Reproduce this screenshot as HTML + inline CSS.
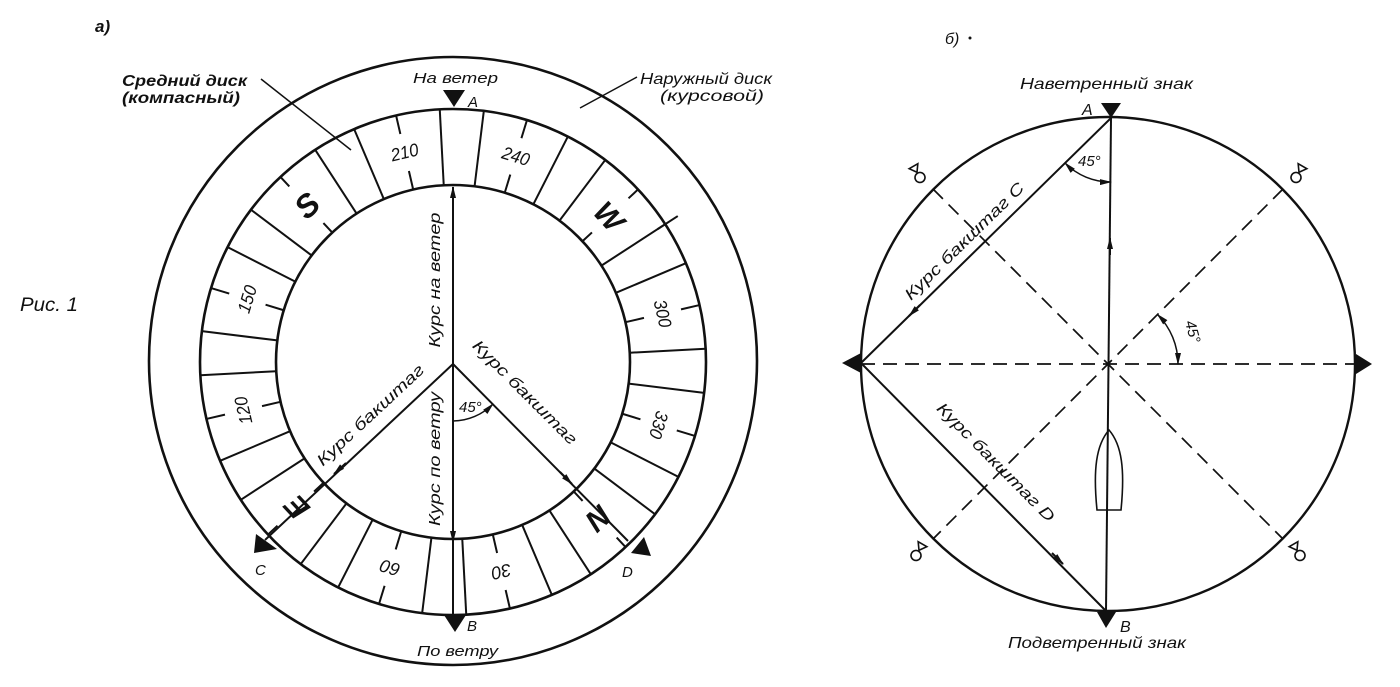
<!DOCTYPE html>
<html><head><meta charset="utf-8"><style>
html,body{margin:0;padding:0;background:#fff;}
svg{display:block;}
text{font-family:"Liberation Sans",sans-serif;font-style:italic;fill:#111;}
</style></head><body>
<svg width="1400" height="687" viewBox="0 0 1400 687" xmlns="http://www.w3.org/2000/svg">
<defs>
<marker id="ar" viewBox="0 0 12 6" refX="11" refY="3" markerWidth="12" markerHeight="6" markerUnits="userSpaceOnUse" orient="auto-start-reverse">
<path d="M0,0 L12,3 L0,6 Z" fill="#111"/></marker>
</defs>

<text x="95" y="32" font-size="17" font-weight="bold">а)</text>
<text x="20" y="311" font-size="19" textLength="58" lengthAdjust="spacingAndGlyphs">Рис. 1</text>
<text x="122" y="86" font-size="16" font-weight="bold" textLength="125" lengthAdjust="spacingAndGlyphs">Средний диск</text>
<text x="122" y="103" font-size="16" font-weight="bold" textLength="118" lengthAdjust="spacingAndGlyphs">(компасный)</text>
<text x="640" y="84" font-size="16" textLength="132" lengthAdjust="spacingAndGlyphs">Наружный диск</text>
<text x="660" y="101" font-size="16" textLength="104" lengthAdjust="spacingAndGlyphs">(курсовой)</text>
<line x1="261" y1="79" x2="351" y2="150" stroke="#111" stroke-width="1.5"/>
<line x1="637" y1="77" x2="580" y2="108" stroke="#111" stroke-width="1.5"/>
<text x="413" y="83" font-size="15" textLength="85" lengthAdjust="spacingAndGlyphs">На ветер</text>
<text x="417" y="656" font-size="15" textLength="81" lengthAdjust="spacingAndGlyphs">По ветру</text>
<text x="468" y="107" font-size="15">A</text>
<text x="467" y="631" font-size="15">B</text>
<text x="255" y="575" font-size="15">C</text>
<text x="622" y="577" font-size="15">D</text>

<g fill="none" stroke="#111" stroke-width="2.6">
<circle cx="453" cy="361" r="304"/>
<circle cx="453" cy="362" r="253"/>
<circle cx="453" cy="362" r="177"/>
</g>
<g transform="translate(453,362)" stroke="#111" stroke-width="2">
<g>
<line x1="0" y1="-177" x2="0" y2="-253" transform="rotate(-3)"/>
<line x1="0" y1="-177" x2="0" y2="-253" transform="rotate(7)"/>
<line x1="0" y1="-177" x2="0" y2="-253" transform="rotate(27)"/>
<line x1="0" y1="-177" x2="0" y2="-253" transform="rotate(37)"/>
<line x1="0" y1="-177" x2="0" y2="-253" transform="rotate(57)"/>
<line x1="0" y1="-177" x2="0" y2="-253" transform="rotate(67)"/>
<line x1="0" y1="-177" x2="0" y2="-253" transform="rotate(87)"/>
<line x1="0" y1="-177" x2="0" y2="-253" transform="rotate(97)"/>
<line x1="0" y1="-177" x2="0" y2="-253" transform="rotate(117)"/>
<line x1="0" y1="-177" x2="0" y2="-253" transform="rotate(127)"/>
<line x1="0" y1="-177" x2="0" y2="-253" transform="rotate(147)"/>
<line x1="0" y1="-177" x2="0" y2="-253" transform="rotate(157)"/>
<line x1="0" y1="-177" x2="0" y2="-253" transform="rotate(177)"/>
<line x1="0" y1="-177" x2="0" y2="-253" transform="rotate(187)"/>
<line x1="0" y1="-177" x2="0" y2="-253" transform="rotate(207)"/>
<line x1="0" y1="-177" x2="0" y2="-253" transform="rotate(217)"/>
<line x1="0" y1="-177" x2="0" y2="-253" transform="rotate(237)"/>
<line x1="0" y1="-177" x2="0" y2="-253" transform="rotate(247)"/>
<line x1="0" y1="-177" x2="0" y2="-253" transform="rotate(267)"/>
<line x1="0" y1="-177" x2="0" y2="-253" transform="rotate(277)"/>
<line x1="0" y1="-177" x2="0" y2="-253" transform="rotate(297)"/>
<line x1="0" y1="-177" x2="0" y2="-253" transform="rotate(307)"/>
<line x1="0" y1="-177" x2="0" y2="-253" transform="rotate(327)"/>
<line x1="0" y1="-177" x2="0" y2="-253" transform="rotate(337)"/>
</g>
<g>
<path d="M0,-177V-196M0,-234V-253" transform="rotate(17)"/>
<path d="M0,-177V-196M0,-234V-253" transform="rotate(77)"/>
<path d="M0,-177V-196M0,-234V-253" transform="rotate(107)"/>
<path d="M0,-177V-196M0,-234V-253" transform="rotate(167)"/>
<path d="M0,-177V-196M0,-234V-253" transform="rotate(197)"/>
<path d="M0,-177V-196M0,-234V-253" transform="rotate(257)"/>
<path d="M0,-177V-196M0,-234V-253" transform="rotate(287)"/>
<path d="M0,-177V-196M0,-234V-253" transform="rotate(347)"/>
<path d="M0,-177V-190M0,-240V-253" transform="rotate(47)"/>
<path d="M0,-177V-190M0,-240V-253" transform="rotate(137)"/>
<path d="M0,-177V-190M0,-240V-253" transform="rotate(227)"/>
<path d="M0,-177V-190M0,-240V-253" transform="rotate(317)"/>
<line x1="0" y1="-244" x2="0" y2="-268" transform="rotate(57)"/>
</g>
</g>
<g transform="translate(453,362)" font-size="18" text-anchor="middle" stroke="none">
<text transform="rotate(347) translate(0,-209)" textLength="28" lengthAdjust="spacingAndGlyphs">210</text>
<text transform="rotate(17) translate(0,-209)" textLength="28" lengthAdjust="spacingAndGlyphs">240</text>
<text transform="rotate(77) translate(0,-209)" textLength="28" lengthAdjust="spacingAndGlyphs">300</text>
<text transform="rotate(107) translate(0,-209)" textLength="28" lengthAdjust="spacingAndGlyphs">330</text>
<text transform="rotate(167) translate(0,-209)" textLength="20" lengthAdjust="spacingAndGlyphs">30</text>
<text transform="rotate(197) translate(0,-209)" textLength="20" lengthAdjust="spacingAndGlyphs">60</text>
<text transform="rotate(257) translate(0,-209)" textLength="28" lengthAdjust="spacingAndGlyphs">120</text>
<text transform="rotate(287) translate(0,-209)" textLength="28" lengthAdjust="spacingAndGlyphs">150</text>
<text transform="rotate(47) translate(0,-203)" font-size="30" font-style="normal" font-weight="bold">W</text>
<text transform="rotate(137) translate(0,-203)" font-size="30" font-style="normal" font-weight="bold">N</text>
<text transform="rotate(227) translate(0,-203)" font-size="30" font-style="normal" font-weight="bold">E</text>
<text transform="rotate(317) translate(0,-203)" font-size="32" font-style="normal" font-weight="bold">S</text>
</g>

<g stroke="#111" stroke-width="2" fill="none">
<line x1="453" y1="364" x2="453" y2="187" marker-end="url(#ar)"/>
<line x1="453" y1="364" x2="453" y2="542" marker-end="url(#ar)"/>
<line x1="453" y1="542" x2="453" y2="615"/>
<line x1="453" y1="364" x2="265" y2="540"/>
<line x1="346" y1="463" x2="334" y2="474" marker-end="url(#ar)"/>
<line x1="453" y1="364" x2="628" y2="541"/>
<line x1="560" y1="472" x2="572" y2="484" marker-end="url(#ar)"/>
<path d="M453,421 A57,57 0 0 0 493,404" marker-end="url(#ar)" stroke-width="1.5"/>
</g>
<g fill="#111">
<polygon points="443,90 465,90 454,107"/>
<polygon points="444,615 466,615 455,632"/>
<polygon points="256,534 277,549 254,553"/>
<polygon points="644,537 651,556 631,553"/>
</g>
<g font-size="16">
<text transform="translate(440,280) rotate(-90)" text-anchor="middle" textLength="135" lengthAdjust="spacingAndGlyphs">Курс на ветер</text>
<text transform="translate(440,459) rotate(-90)" text-anchor="middle" textLength="134" lengthAdjust="spacingAndGlyphs">Курс по ветру</text>
<text transform="translate(374,419) rotate(-43)" text-anchor="middle" textLength="140" lengthAdjust="spacingAndGlyphs">Курс бакштаг</text>
<text transform="translate(521,396) rotate(45)" text-anchor="middle" textLength="140" lengthAdjust="spacingAndGlyphs">Курс бакштаг</text>
<text x="459" y="412" font-size="15">45°</text>
</g>

<text x="945" y="44" font-size="16">б)</text>
<circle cx="970" cy="38" r="1.5" fill="#111"/>
<text x="1020" y="89" font-size="16" textLength="173" lengthAdjust="spacingAndGlyphs">Наветренный знак</text>
<text x="1008" y="648" font-size="16" textLength="178" lengthAdjust="spacingAndGlyphs">Подветренный знак</text>
<text x="1082" y="115" font-size="16" font-style="normal">A</text>
<text x="1120" y="632" font-size="16">B</text>
<circle cx="1108" cy="364" r="247" fill="none" stroke="#111" stroke-width="2.4"/>
<g stroke="#111" stroke-width="1.7" stroke-dasharray="14 8" fill="none">
<line x1="861" y1="364" x2="1355" y2="364"/>
<line x1="933" y1="189" x2="1283" y2="539"/>
<line x1="1283" y1="189" x2="933" y2="539"/>
</g>
<g stroke="#111" stroke-width="2" fill="none">
<line x1="1111" y1="118" x2="861" y2="363"/>
<line x1="920" y1="305" x2="909" y2="316" marker-end="url(#ar)"/>
<line x1="861" y1="363" x2="1106" y2="611"/>
<line x1="1052" y1="553" x2="1063" y2="564" marker-end="url(#ar)"/>
<line x1="1106" y1="611" x2="1111" y2="118"/>
<line x1="1110" y1="255" x2="1110" y2="238" marker-end="url(#ar)"/>
<path d="M1109,430 C1122,445 1125,470 1121,510 L1097,510 C1093,470 1096,445 1109,430 Z" stroke-width="1.6"/>
<path d="M1111,182 A64,64 0 0 1 1065,163" stroke-width="1.5" marker-start="url(#ar)" marker-end="url(#ar)"/>
<path d="M1178,364 A70,70 0 0 0 1157.5,314.5" stroke-width="1.5" marker-start="url(#ar)" marker-end="url(#ar)"/>
</g>
<g fill="#111">
<polygon points="1101,103 1121,103 1111,118"/>
<polygon points="1097,612 1116,612 1106,628"/>
<polygon points="842,363 861,353 861,373"/>
<polygon points="1356,354 1356,374 1372,364"/>
</g>
<g stroke="#111" stroke-width="1.6" fill="none">
<g transform="translate(918,174) rotate(-30)"><circle cx="0" cy="4" r="5"/><path d="M-5,-9 L5,-9 L0,-2 Z"/></g>
<g transform="translate(1298,174) rotate(30)"><circle cx="0" cy="4" r="5"/><path d="M-5,-9 L5,-9 L0,-2 Z"/></g>
<g transform="translate(918,552) rotate(30)"><circle cx="0" cy="4" r="5"/><path d="M-5,-9 L5,-9 L0,-2 Z"/></g>
<g transform="translate(1298,552) rotate(-30)"><circle cx="0" cy="4" r="5"/><path d="M-5,-9 L5,-9 L0,-2 Z"/></g>
</g>
<g font-size="16">
<text transform="translate(968,245) rotate(-44.4)" text-anchor="middle" textLength="160" lengthAdjust="spacingAndGlyphs">Курс бакштаг C</text>
<text transform="translate(992,466) rotate(45.3)" text-anchor="middle" textLength="160" lengthAdjust="spacingAndGlyphs">Курс бакштаг D</text>
<text x="1078" y="166" font-size="15">45°</text>
<text transform="translate(1185,322) rotate(75)" font-size="15">45°</text>
</g>
</svg>
</body></html>
